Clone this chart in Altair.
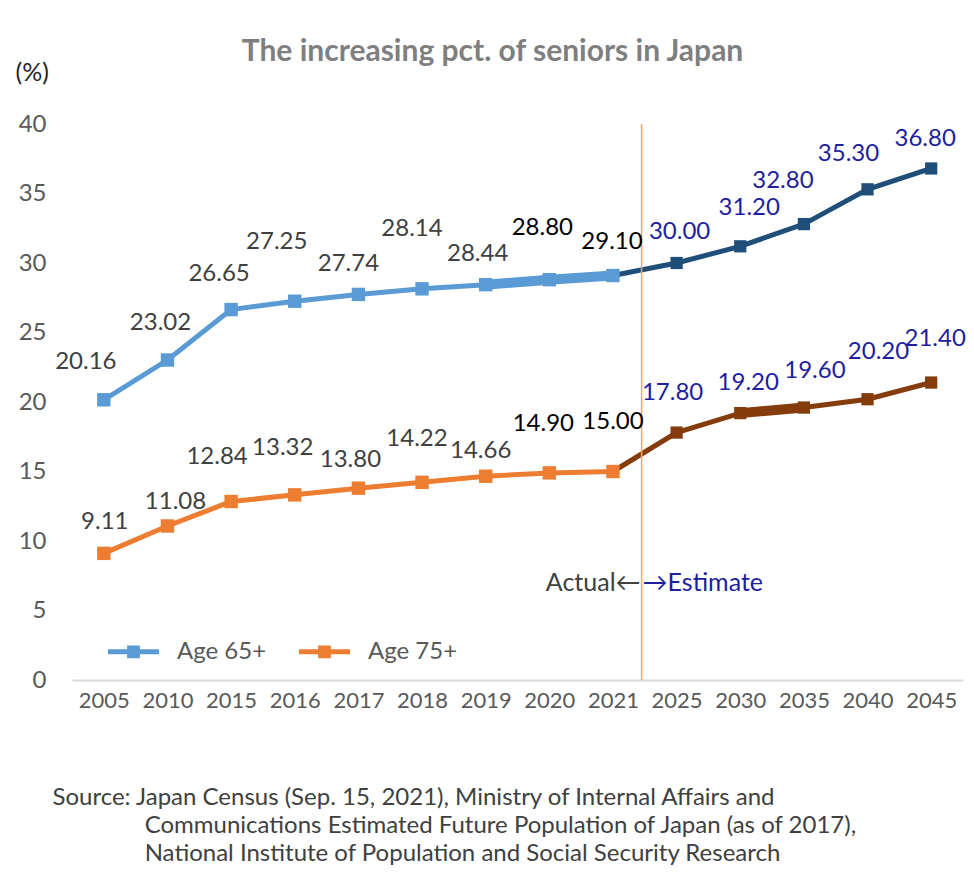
import json
import altair as alt
import pandas as pd

# ---------------- data ----------------
years = ["2005", "2010", "2015", "2016", "2017", "2018", "2019", "2020", "2021",
         "2025", "2030", "2035", "2040", "2045"]
age65 = [20.16, 23.02, 26.65, 27.25, 27.74, 28.14, 28.44, 28.80, 29.10,
         30.00, 31.20, 32.80, 35.30, 36.80]
age75 = [9.11, 11.08, 12.84, 13.32, 13.80, 14.22, 14.66, 14.90, 15.00,
         17.80, 19.20, 19.60, 20.20, 21.40]
series_names = ["Age 65+", "Age 75+"]
last_actual_idx = 8          # 2021 is the last actual value
divider_pos = 8.45           # between 2021 and 2025
annotation_y = 7.0
title_text = "The increasing pct. of seniors in Japan"
source_lines = [
    "Source: Japan Census (Sep. 15, 2021), Ministry of Internal Affairs and",
    "Communications Estimated Future Population of Japan (as of 2017),",
    "National Institute of Population and Social Security Research",
]

# ---------------- style ----------------
W, H = 891, 556
FONT = "Lato"
GRAY = "#404040"
AXIS_GRAY = "#595959"
NAVY = "#1E1E9E"
COLORS = {
    "Age 65+": "#5B9BD5",
    "Age 65+ (estimate)": "#1F4E79",
    "Age 75+": "#ED7D31",
    "Age 75+ (estimate)": "#843C0C",
}
# data-label offsets in pixels (dx, dy) relative to each point
LBL_DX = {
    "Age 65+": [-18, -7, -12, -18, -10, -10, -8, -7, -1, 3, 9, -21, -19, -6],
    "Age 75+": [1, 8, -14, -12, -8, -5, -5, -6, 0, -4, 8, 11, 11, 4],
}
LBL_DY = {
    "Age 65+": [-38, -37, -36, -59, -30, -60, -31, -52, -34, -31, -38, -43, -35, -29],
    "Age 75+": [-31, -24, -45, -47, -28, -43, -25, -49, -50, -40, -30, -37, -47, -44],
}

values = {"Age 65+": age65, "Age 75+": age75}
n = len(years)
px_x = W / n
px_y = H / 40.0

pt_rows, line_rows = [], []
for s in series_names:
    for i, (yr, v) in enumerate(zip(years, values[s])):
        est = i > last_actual_idx
        pt_rows.append(dict(
            idx=i, year=yr, series=s, value=v,
            key=s + (" (estimate)" if est else ""),
            label=f"{v:.2f}",
            lx=i + LBL_DX[s][i] / px_x,
            ly=v - LBL_DY[s][i] / px_y,
        ))
        if i <= last_actual_idx:
            line_rows.append(dict(idx=i, value=v, series=s, key=s))
        if i >= last_actual_idx:
            line_rows.append(dict(idx=i, value=v, series=s, key=s + " (estimate)"))

pts = pd.DataFrame(pt_rows)
lines_df = pd.DataFrame(line_rows)
div_df = pd.DataFrame({"x": [divider_pos], "y": [annotation_y]})

INDENT = "\u200b" + "\u00a0" * 15
x_title = [source_lines[0], INDENT + source_lines[1], INDENT + source_lines[2]]

label_expr = json.dumps(years) + "[datum.value]"


def xe(field):
    return alt.X(
        f"{field}:Q",
        scale=alt.Scale(domain=[-0.5, n - 0.5], nice=False, zero=False),
        axis=alt.Axis(
            values=list(range(n)), labelExpr=label_expr,
            ticks=False, grid=False, domain=True,
            domainColor="#D9D9D9", domainWidth=2,
            labelFont=FONT, labelFontSize=22, labelColor=AXIS_GRAY,
            labelPadding=10,
            titleFont=FONT, titleFontSize=24, titleFontWeight="normal",
            titleColor=GRAY, titleAnchor="start", titleAlign="left",
            titleBaseline="top", titleX=-20, titleY=105, titleLineHeight=28,
        ),
        title=x_title,
    )


def ye(field):
    return alt.Y(
        f"{field}:Q",
        scale=alt.Scale(domain=[0, 40], nice=False, zero=True),
        axis=alt.Axis(
            values=list(range(0, 41, 5)), ticks=False, grid=False, domain=False,
            labelFont=FONT, labelFontSize=24, labelColor=AXIS_GRAY,
            labelPadding=26,
            titleFont=FONT, titleFontSize=25, titleFontWeight="normal",
            titleColor="#262626", titleAngle=0, titleAlign="left",
            titleBaseline="middle", titleX=-57, titleY=-52,
        ),
        title="(%)",
    )


color_scale = alt.Scale(domain=list(COLORS.keys()), range=list(COLORS.values()))
sym_path = ("M-1,-0.1L1,-0.1L1,0.1L-1,0.1Z "
            "M-0.25,-0.25L0.25,-0.25L0.25,0.25L-0.25,0.25Z")
legend = alt.Legend(
    title=None, values=series_names, orient="none", direction="horizontal",
    legendX=36, legendY=502, symbolType=sym_path, symbolSize=2601,
    symbolStrokeWidth=0, symbolOpacity=1, labelFont=FONT, labelFontSize=24,
    labelColor=AXIS_GRAY, labelOffset=18, columnPadding=32, padding=0,
    labelLimit=300,
)
color_enc = alt.Color("key:N", scale=color_scale, legend=legend)

lines = alt.Chart(lines_df).mark_line(strokeWidth=5).encode(
    x=xe("idx"), y=ye("value"), color=color_enc, detail="key:N",
    order="idx:Q")

thick = alt.Chart(lines_df).transform_filter(
    "(datum.key == 'Age 65+' && datum.idx >= 6) || "
    "(datum.key == 'Age 75+ (estimate)' && datum.idx >= 10 && datum.idx <= 11)"
).mark_line(strokeWidth=10).encode(
    x=xe("idx"), y=ye("value"), color=color_enc, detail="key:N",
    order="idx:Q")

rule = alt.Chart(div_df).mark_rule(color="#F0A868", strokeWidth=1.5).encode(
    x=xe("x"))

points = alt.Chart(pts).mark_square(opacity=1).encode(
    x=xe("idx"), y=ye("value"), color=color_enc,
    size=alt.condition(f"datum.idx <= {last_actual_idx}",
                       alt.value(180), alt.value(150)))

labels = alt.Chart(pts).transform_calculate(
    lc=f"datum.idx > {last_actual_idx} ? '{NAVY}' : "
       f"(datum.idx >= 7 ? '#000000' : '{GRAY}')"
).mark_text(font=FONT, fontSize=24, align="center", baseline="middle").encode(
    x=xe("lx"), y=ye("ly"), text="label:N",
    color=alt.Color("lc:N", scale=None))

ann_left = alt.Chart(div_df).mark_text(
    text="Actual←", font=FONT, fontSize=25, align="right", baseline="middle",
    color=GRAY, dx=-1).encode(x=xe("x"), y=ye("y"))
ann_right = alt.Chart(div_df).mark_text(
    text="→Estimate", font=FONT, fontSize=25, align="left", baseline="middle",
    color=NAVY, dx=1).encode(x=xe("x"), y=ye("y"))

chart = alt.layer(lines, thick, rule, points, labels, ann_left, ann_right).properties(
    width=W, height=H,
    title=alt.TitleParams(
        text=title_text, font=FONT, fontSize=30, fontWeight="bold",
        color="#7F7F7F", anchor="middle", frame="group", dx=-25, offset=-7),
    autosize="none",
    background="white",
    padding={"left": 64, "top": 116, "right": 3, "bottom": 188},
).configure_view(stroke=None)

chart.save("out.html", embed_options={"renderer": "svg", "actions": False})
